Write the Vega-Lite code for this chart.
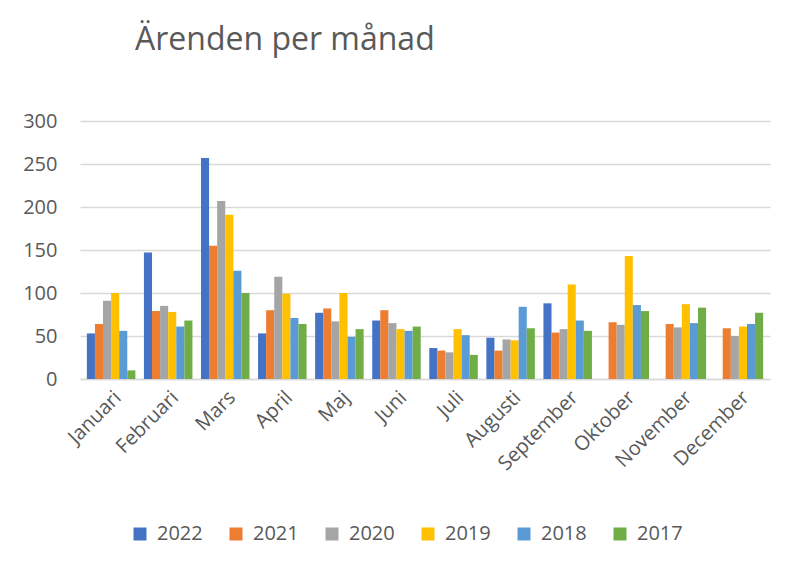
{
  "$schema": "https://vega.github.io/schema/vega-lite/v6.json",
  "width": 690,
  "height": 258,
  "autosize": {"type": "none"},
  "padding": {"left": 80, "top": 121, "right": 23, "bottom": 184},
  "background": "white",
  "title": {
    "text": "Ärenden per månad",
    "anchor": "start",
    "frame": "group",
    "dx": 55,
    "offset": 54,
    "font": "Open Sans",
    "fontSize": 32,
    "fontWeight": "normal",
    "color": "#595959"
  },
  "config": {
    "view": {"stroke": null},
    "font": "Open Sans"
  },
  "data": {
    "values": [
      {"month": "Januari", "year": "2022", "value": 53},
      {"month": "Januari", "year": "2021", "value": 64},
      {"month": "Januari", "year": "2020", "value": 91},
      {"month": "Januari", "year": "2019", "value": 100},
      {"month": "Januari", "year": "2018", "value": 56},
      {"month": "Januari", "year": "2017", "value": 10},
      {"month": "Februari", "year": "2022", "value": 147},
      {"month": "Februari", "year": "2021", "value": 79},
      {"month": "Februari", "year": "2020", "value": 85},
      {"month": "Februari", "year": "2019", "value": 78},
      {"month": "Februari", "year": "2018", "value": 61},
      {"month": "Februari", "year": "2017", "value": 68},
      {"month": "Mars", "year": "2022", "value": 257},
      {"month": "Mars", "year": "2021", "value": 155},
      {"month": "Mars", "year": "2020", "value": 207},
      {"month": "Mars", "year": "2019", "value": 191},
      {"month": "Mars", "year": "2018", "value": 126},
      {"month": "Mars", "year": "2017", "value": 100},
      {"month": "April", "year": "2022", "value": 53},
      {"month": "April", "year": "2021", "value": 80},
      {"month": "April", "year": "2020", "value": 119},
      {"month": "April", "year": "2019", "value": 99},
      {"month": "April", "year": "2018", "value": 71},
      {"month": "April", "year": "2017", "value": 64},
      {"month": "Maj", "year": "2022", "value": 77},
      {"month": "Maj", "year": "2021", "value": 82},
      {"month": "Maj", "year": "2020", "value": 67},
      {"month": "Maj", "year": "2019", "value": 100},
      {"month": "Maj", "year": "2018", "value": 49},
      {"month": "Maj", "year": "2017", "value": 58},
      {"month": "Juni", "year": "2022", "value": 68},
      {"month": "Juni", "year": "2021", "value": 80},
      {"month": "Juni", "year": "2020", "value": 65},
      {"month": "Juni", "year": "2019", "value": 58},
      {"month": "Juni", "year": "2018", "value": 56},
      {"month": "Juni", "year": "2017", "value": 61},
      {"month": "Juli", "year": "2022", "value": 36},
      {"month": "Juli", "year": "2021", "value": 33},
      {"month": "Juli", "year": "2020", "value": 31},
      {"month": "Juli", "year": "2019", "value": 58},
      {"month": "Juli", "year": "2018", "value": 51},
      {"month": "Juli", "year": "2017", "value": 28},
      {"month": "Augusti", "year": "2022", "value": 48},
      {"month": "Augusti", "year": "2021", "value": 33},
      {"month": "Augusti", "year": "2020", "value": 46},
      {"month": "Augusti", "year": "2019", "value": 45},
      {"month": "Augusti", "year": "2018", "value": 84},
      {"month": "Augusti", "year": "2017", "value": 59},
      {"month": "September", "year": "2022", "value": 88},
      {"month": "September", "year": "2021", "value": 54},
      {"month": "September", "year": "2020", "value": 58},
      {"month": "September", "year": "2019", "value": 110},
      {"month": "September", "year": "2018", "value": 68},
      {"month": "September", "year": "2017", "value": 56},
      {"month": "Oktober", "year": "2021", "value": 66},
      {"month": "Oktober", "year": "2020", "value": 63},
      {"month": "Oktober", "year": "2019", "value": 143},
      {"month": "Oktober", "year": "2018", "value": 86},
      {"month": "Oktober", "year": "2017", "value": 79},
      {"month": "November", "year": "2021", "value": 64},
      {"month": "November", "year": "2020", "value": 60},
      {"month": "November", "year": "2019", "value": 87},
      {"month": "November", "year": "2018", "value": 65},
      {"month": "November", "year": "2017", "value": 83},
      {"month": "December", "year": "2021", "value": 59},
      {"month": "December", "year": "2020", "value": 50},
      {"month": "December", "year": "2019", "value": 61},
      {"month": "December", "year": "2018", "value": 64},
      {"month": "December", "year": "2017", "value": 77}
    ]
  },
  "mark": {"type": "bar", "stroke": null},
  "encoding": {
    "x": {
      "field": "month",
      "type": "nominal",
      "sort": ["Januari", "Februari", "Mars", "April", "Maj", "Juni", "Juli", "Augusti", "September", "Oktober", "November", "December"],
      "scale": {"paddingInner": 0.15, "paddingOuter": 0.12},
      "axis": {
        "title": null,
        "labelAngle": -45,
        "labelFontSize": 20,
        "labelColor": "#595959",
        "labelFont": "Open Sans",
        "ticks": false,
        "domainColor": "#d9d9d9",
        "domainWidth": 1.5,
        "labelPadding": 8
      }
    },
    "xOffset": {
      "field": "year",
      "type": "nominal",
      "sort": ["2022", "2021", "2020", "2019", "2018", "2017"]
    },
    "y": {
      "field": "value",
      "type": "quantitative",
      "scale": {"domain": [0, 300]},
      "axis": {
        "title": null,
        "values": [0, 50, 100, 150, 200, 250, 300],
        "labelFontSize": 20,
        "labelColor": "#595959",
        "labelFont": "Open Sans",
        "ticks": false,
        "domain": false,
        "gridColor": "#d9d9d9",
        "gridWidth": 1.5,
        "labelPadding": 23
      }
    },
    "color": {
      "field": "year",
      "type": "nominal",
      "sort": ["2022", "2021", "2020", "2019", "2018", "2017"],
      "scale": {
        "domain": ["2022", "2021", "2020", "2019", "2018", "2017"],
        "range": ["#4472C4", "#ED7D31", "#A5A5A5", "#FFC000", "#5B9BD5", "#70AD47"]
      },
      "legend": {
        "title": null,
        "orient": "none",
        "direction": "horizontal",
        "legendX": 50,
        "legendY": 403,
        "symbolType": "square",
        "symbolSize": 169,
        "symbolStrokeWidth": 0,
        "labelFontSize": 20,
        "labelColor": "#595959",
        "labelFont": "Open Sans",
        "columnPadding": 23,
        "labelOffset": 7
      }
    }
  }
}
